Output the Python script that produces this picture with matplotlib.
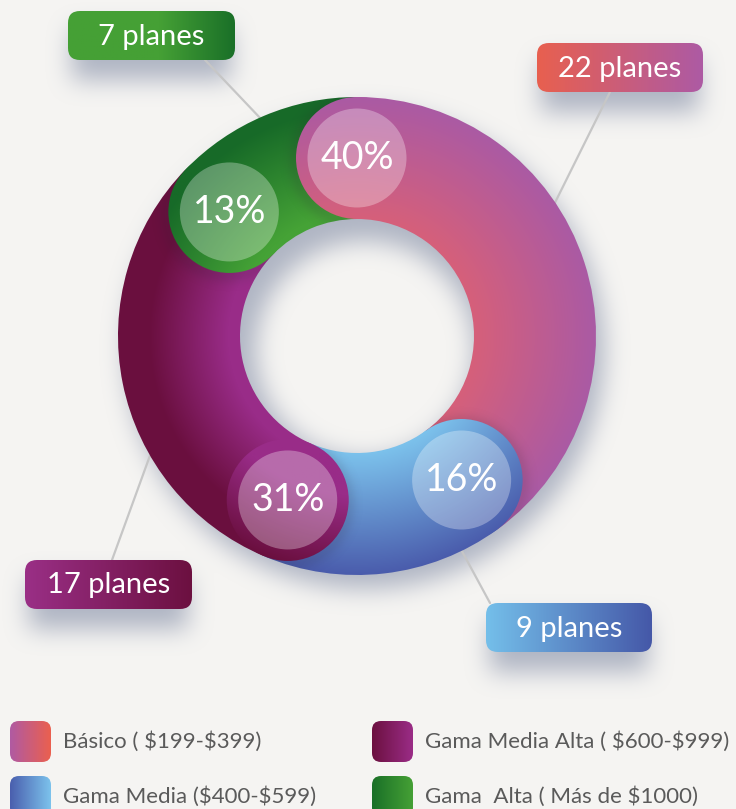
import numpy as np
import matplotlib.pyplot as plt
from matplotlib.patches import Wedge, Circle, FancyBboxPatch
from matplotlib.colors import to_rgb

W, H = 736, 809

categories = ['Básico ( $199-$399)', 'Gama Media ($400-$599)',
              'Gama Media Alta ( $600-$999)', 'Gama  Alta ( Más de $1000)']
planes = [22, 9, 17, 7]
percents = [round(p * 100 / sum(planes)) for p in planes]
box_labels = ['{} planes'.format(p) for p in planes]

# radial gradient colours (inner edge, outer edge) per segment
seg_cols = [('#d6607a', '#aa5aa4'), ('#7cc2ec', '#4a5cac'),
            ('#992c88', '#6a0f3e'), ('#45a236', '#176a28')]
seg_stops = [(0.0, 1.0), (0.0, 1.0), (0.1, 0.75), (0.05, 0.9)]
cap_stops = [(0.0, 1.0), (0.0, 1.0), (0.35, 1.0), (0.05, 0.9)]
box_cols = [('#e8604f', '#ad5aa4'), ('#74bfea', '#4558a8'),
            ('#9a2f86', '#6c1040'), ('#45a035', '#1a7028')]
leg_cols = [('#b05aa2', '#ea604f'), ('#4a5fae', '#7cc2ec'),
            ('#6c1040', '#9a2c86'), ('#1a7028', '#45a035')]

bg = '#f5f4f2'
cx, cy = 357, H - 336
R, r = 239, 117
mid = (R + r) / 2
capr = (R - r) / 2


def Y(y):
    return H - y


fig = plt.figure(figsize=(W / 100, H / 100), dpi=100, facecolor=bg)
ax = fig.add_axes([0, 0, 1, 1])
ax.set_facecolor(bg)


def grad_fill(patch, c1, c2, z, p1=None, p2=None, t0=0.0, t1=1.0):
    """fill patch with a linear gradient p1->p2, or radial (ring) if p1 is None"""
    ax.add_patch(patch)
    patch.set_facecolor('none')
    patch.set_edgecolor('none')
    bb = patch.get_path().get_extents(patch.get_patch_transform())
    x0, y0, x1, y1 = bb.x0 - 2, bb.y0 - 2, bb.x1 + 2, bb.y1 + 2
    xs = np.linspace(x0, x1, int(x1 - x0) + 1)
    ys = np.linspace(y0, y1, int(y1 - y0) + 1)
    X, Yg = np.meshgrid(xs, ys)
    if p1 is None:
        t = (np.hypot(X - cx, Yg - cy) - r) / (R - r)
    else:
        d = np.array(p2, float) - np.array(p1, float)
        t = ((X - p1[0]) * d[0] + (Yg - p1[1]) * d[1]) / (d @ d)
    t = np.clip((t - t0) / (t1 - t0), 0, 1)[..., None]
    img = np.array(to_rgb(c1)) * (1 - t) + np.array(to_rgb(c2)) * t
    im = ax.imshow(img, extent=(x0, x1, y0, y1), origin='lower',
                   zorder=z, interpolation='bilinear', aspect='auto')
    im.set_clip_path(patch)


def blur(a, rad):
    for axis in (0, 1):
        a = np.moveaxis(a, axis, 0)
        p = np.pad(a, ((rad + 1, rad), (0, 0)), mode='constant')
        c = np.cumsum(p, axis=0)
        a = (c[2 * rad + 1:] - c[:-2 * rad - 1]) / (2 * rad + 1)
        a = np.moveaxis(a, 0, axis)
    return a


# boxes in image coords (x, top, w, h) and where the leader line meets the box
boxes = [(537, 43, 166, 49), (486, 603, 166, 49), (25, 560, 167, 49), (68, 11, 167, 49)]
attach = [(610, 92), (490, 603), (112, 560), (205, 60)]
lead_ang = [34, -64, 210, 114]

# soft shadows (ring + boxes)
Xp, Yp = np.meshgrid(np.arange(W) + 0.5, np.arange(H) + 0.5)
dist = np.hypot(Xp - (cx + 8), Yp - (cy - 14))
mask = ((dist <= R) & (dist >= r - 8)).astype(float)
for (bx, bt, bw, bh) in boxes:
    m = (Xp >= bx + 4) & (Xp <= bx + bw - 4) & (Yp <= Y(bt) - 18) & (Yp >= Y(bt + bh) - 20)
    mask = np.maximum(mask, m.astype(float))
for _ in range(3):
    mask = blur(mask, 11)
shadow = np.zeros((H, W, 4))
shadow[..., :3] = to_rgb('#98a0b4')
shadow[..., 3] = np.clip(mask * 0.75, 0, 1)
ax.imshow(shadow, extent=(0, W, 0, H), origin='lower', zorder=1,
          interpolation='bilinear', aspect='auto')

# segments, clockwise from the top
fracs = np.array(planes) / sum(planes)
starts = 90 - 360 * np.concatenate([[0], np.cumsum(fracs)[:-1]])
ends = starts - 360 * fracs

wedges = []
for i in range(len(planes)):
    w = Wedge((cx, cy), R, ends[i], starts[i], width=R - r)
    grad_fill(w, seg_cols[i][0], seg_cols[i][1], 3, t0=seg_stops[i][0], t1=seg_stops[i][1])
    wedges.append(w)

# leader lines
for i in range(len(planes)):
    a = np.radians(lead_ang[i])
    ax.plot([cx + R * np.cos(a), attach[i][0]], [cy + R * np.sin(a), Y(attach[i][1])],
            color='#c6c6c6', lw=1.6, zorder=2, solid_capstyle='round')

# rounded caps at each segment start
for i in range(len(planes)):
    a = np.radians(starts[i])
    px, py = cx + mid * np.cos(a), cy + mid * np.sin(a)
    # faint shadow of the cap on the previous segment
    ext = capr + 25
    xs = np.linspace(px - ext, px + ext, 200)
    ys = np.linspace(py - ext, py + ext, 200)
    Xc, Yc = np.meshgrid(xs, ys)
    d = np.hypot(Xc - px + 1, Yc - py + 3)
    al = np.where(d > capr, 0.13 * np.exp(-((d - capr) ** 2) / (2 * 6 ** 2)), 0.13)
    sh = np.zeros((200, 200, 4))
    sh[..., 3] = al
    sh[..., :3] = to_rgb('#2a2030')
    im = ax.imshow(sh, extent=(px - ext, px + ext, py - ext, py + ext), origin='lower',
                   zorder=4, interpolation='bilinear', aspect='auto')
    clip = Wedge((cx, cy), R, ends[i - 1], starts[i - 1], width=R - r)
    clip.set_visible(False)
    ax.add_patch(clip)
    im.set_clip_path(clip)

    cap = Circle((px, py), capr)
    grad_fill(cap, seg_cols[i][0], seg_cols[i][1], 5, t0=cap_stops[i][0], t1=cap_stops[i][1])
    ax.add_patch(Circle((px, py), 49.5, facecolor='white', alpha=0.3, lw=0, zorder=6))
    ax.text(px, py, '{}%'.format(percents[i]), color='white', fontsize=27,
            ha='center', va='center', zorder=7, family='Lato')

# label boxes
for i, (bx, bt, bw, bh) in enumerate(boxes):
    b = FancyBboxPatch((bx, Y(bt + bh)), bw, bh, boxstyle='round,pad=0,rounding_size=12')
    t0 = 0.55 if i == 3 else 0.0
    grad_fill(b, box_cols[i][0], box_cols[i][1], 8, (bx, 0), (bx + bw, 0), t0=t0)
    ax.text(bx + bw / 2, Y(bt + bh / 2) - 1, box_labels[i], color='white', fontsize=21,
            ha='center', va='center', zorder=9, family='Lato')

# legend
leg_x = [10, 372]
leg_y = [721, 776]
for i, cat in enumerate(categories):
    col, row = i // 2, i % 2
    sx, sy = leg_x[col], leg_y[row]
    sq = FancyBboxPatch((sx, Y(sy + 41)), 41, 41, boxstyle='round,pad=0,rounding_size=9')
    grad_fill(sq, leg_cols[i][0], leg_cols[i][1], 8, (sx, 0), (sx + 41, 0))
    ax.text(sx + 53, Y(sy + 21), cat, color='#5a5a5a', fontsize=16,
            ha='left', va='center', zorder=9, family='Lato', parse_math=False)

ax.set_xlim(0, W)
ax.set_ylim(0, H)
ax.axis('off')
fig.savefig('out.png', dpi=100, facecolor=bg)
